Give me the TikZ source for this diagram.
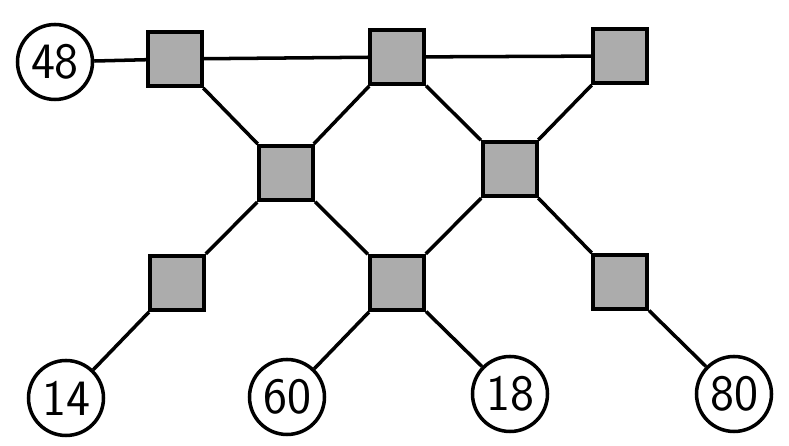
\documentclass[tikz,border=0pt]{standalone}
\usepackage{tikz}

\begin{document}
\begin{tikzpicture}[line width=2pt,
        box/.style={draw, fill=gray!65, line width=2.4pt, minimum size=1.08cm, inner sep=0pt},
        leaf/.style={draw, circle, fill=white, line width=2pt, minimum size=1.5cm, inner sep=0pt,
            font=\sffamily\fontsize{29}{29}\selectfont}]
        \useasboundingbox (0,0) rectangle (15.78,8.92);

        % Top row
        \node[box] (a) at (3.5, 7.74) {};
        \node[box] (b) at (7.94, 7.78) {};
        \node[box] (c) at (12.4, 7.8) {};

        % Middle row
        \node[box] (d) at (5.72, 5.46) {};
        \node[box] (e) at (10.2, 5.54) {};

        % Bottom row
        \node[box] (f) at (3.54, 3.26) {};
        \node[box] (g) at (7.94, 3.26) {};
        \node[box] (h) at (12.4, 3.28) {};

        % Numbers
        \node[leaf] (n48) at (1.1, 7.68) {48};
        \node[leaf] (n14) at (1.32, 0.96) {14};
        \node[leaf] (n60) at (5.74, 0.98) {60};
        \node[leaf] (n18) at (10.2, 1.04) {18};
        \node[leaf] (n80) at (14.68, 1.04) {80};

        % Links
        \draw (n48) -- (a) -- (b) -- (c);
        \draw (a) -- (d) -- (b) -- (e) -- (c);
        \draw (f) -- (d) -- (g) -- (e) -- (h);
        \draw (n14) -- (f);
        \draw (n60) -- (g) -- (n18);
        \draw (h) -- (n80);
    \end{tikzpicture}
\end{document}
